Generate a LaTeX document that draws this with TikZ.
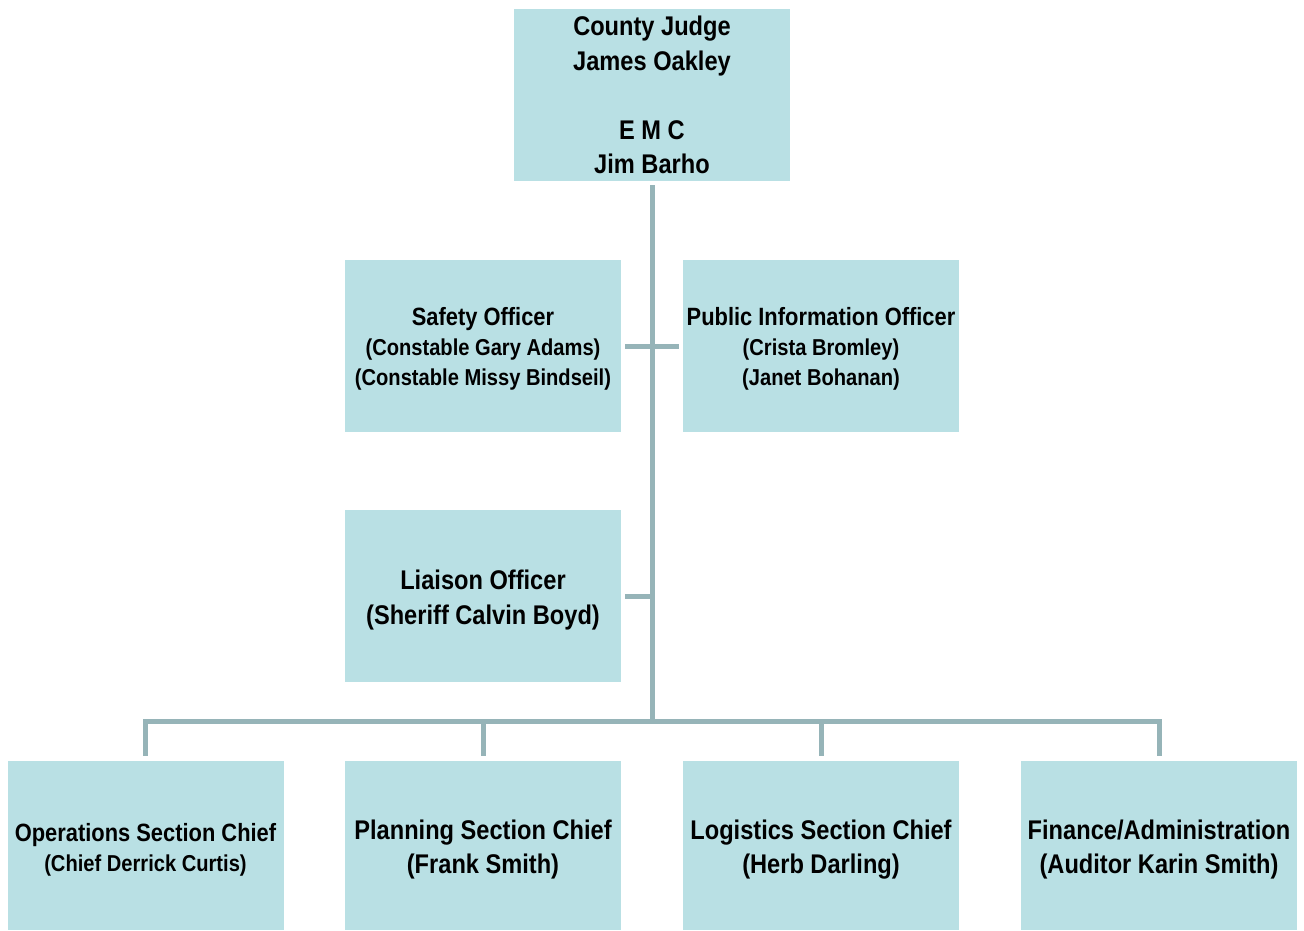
\documentclass[tikz,border=0pt]{standalone}
\usepackage{fontspec}
\setmainfont{Liberation Sans}[FakeStretch=0.875]
\definecolor{boxfill}{RGB}{185,224,228}
\definecolor{linec}{RGB}{150,180,184}
\newcommand{\bigline}{\fontsize{27}{34.5}\bfseries\selectfont}
\newcommand{\midline}{\fontsize{25}{30}\bfseries\selectfont}
\newcommand{\smallline}{\fontsize{23}{30}\bfseries\selectfont}
\begin{document}
\begin{tikzpicture}[x=1pt,y=-1pt,
  orgbox/.style={fill=boxfill,draw=none,minimum width=276pt,minimum height=172pt,inner sep=0pt},
  orgtext/.style={align=center,inner sep=0pt},
  big/.style={font=\bigline},
  small/.style={font=\smallline},
  conn/.style={draw=linec,line width=5pt}]
\useasboundingbox (0,0) rectangle (1304,930);
\node[orgbox] (judge) at (652,95) {};
\node[orgbox] (safety) at (483,346) {};
\node[orgbox] (pio) at (821,346) {};
\node[orgbox] (liaison) at (483,596) {};
\node[orgbox,minimum height=169pt] (ops) at (145.5,845.5) {};
\node[orgbox,minimum height=169pt] (plan) at (483,845.5) {};
\node[orgbox,minimum height=169pt] (log) at (821,845.5) {};
\node[orgbox,minimum height=169pt] (fin) at (1159,845.5) {};
\node[orgtext,big] (judge-t) at (judge.center) {County Judge\\James Oakley\\[34.5pt]E M C\\Jim Barho};
\node[orgtext,small] (safety-t) at ([yshift=-3pt]safety.center) {{\midline Safety Officer}\\(Constable Gary Adams)\\(Constable Missy Bindseil)};
\node[orgtext,small] (pio-t) at ([yshift=-3pt]pio.center) {{\midline Public Information Officer}\\(Crista Bromley)\\(Janet Bohanan)};
\node[orgtext,big] (liaison-t) at ([yshift=-4pt]liaison.center) {Liaison Officer\\(Sheriff Calvin Boyd)};
\node[orgtext,small] (ops-t) at ([yshift=-4pt]ops.center) {{\midline Operations Section Chief}\\(Chief Derrick Curtis)};
\node[orgtext,big] (plan-t) at ([yshift=-4pt]plan.center) {Planning Section Chief\\(Frank Smith)};
\node[orgtext,big] (log-t) at ([yshift=-4pt]log.center) {Logistics Section Chief\\(Herb Darling)};
\node[orgtext,big] (fin-t) at ([yshift=-4pt]fin.center) {Finance/Administration\\(Auditor Karin Smith)};
\coordinate (top) at (652,185);
\coordinate (bus) at (652,721);
\draw[conn] (top) -- (bus);
\draw[conn] ([xshift=4pt]safety.east) -- ([xshift=-4pt]pio.west);
\draw[conn] ([xshift=4pt]liaison.east) -- (liaison.east -| bus);
\draw[conn] ([yshift=5pt]ops.north) |- (bus) -| ([yshift=5pt]fin.north);
\draw[conn] ([yshift=5pt]plan.north) -- (plan.north |- bus);
\draw[conn] ([yshift=5pt]log.north) -- (log.north |- bus);
\end{tikzpicture}
\end{document}
